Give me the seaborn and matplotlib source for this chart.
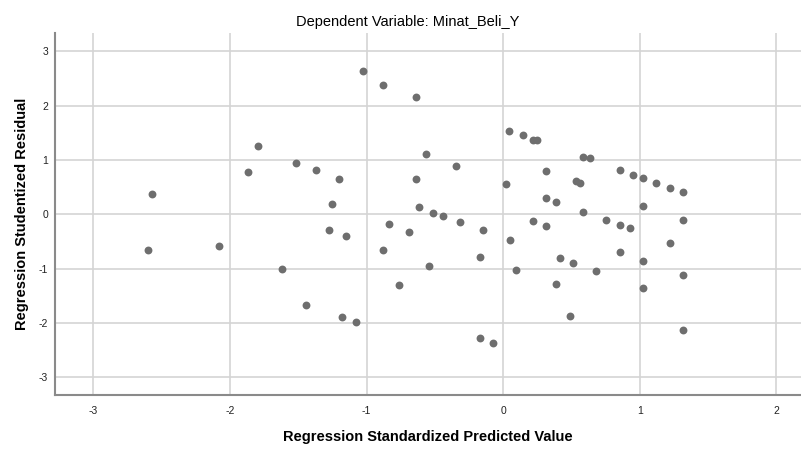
import matplotlib
matplotlib.use("Agg")
import matplotlib.pyplot as plt
import seaborn as sns
import pandas as pd

# regression standardized predicted value (x) and studentized residual (y)
pred_std = [
    -2.597, -2.572, -2.082, -1.865, -1.792, -1.617, -1.519, -1.446, -1.372, -1.275,
    -1.251, -1.202, -1.178, -1.151, -1.078, -1.026, -0.882, -0.882, -0.836, -0.761,
    -0.688, -0.641, -0.641, -0.614, -0.568, -0.544, -0.514, -0.441, -0.346, -0.319,
    -0.173, -0.173, -0.150, -0.078, 0.022, 0.045, 0.047, 0.095, 0.144, 0.215,
    0.246, 0.217, 0.317, 0.317, 0.317, 0.390, 0.390, 0.415, 0.486, 0.512,
    0.530, 0.561, 0.588, 0.632, 0.588, 0.683, 0.756, 0.854, 0.854, 0.854,
    0.927, 0.951, 1.024, 1.024, 1.024, 1.024, 1.122, 1.220, 1.220, 1.317,
    1.317, 1.317, 1.317,
]
resid_stud = [
    -0.650, 0.379, -0.588, 0.772, 1.261, -1.011, 0.949, -1.661, 0.809, -0.294,
    0.189, 0.654, -1.893, -0.404, -1.980, 2.629, 2.377, -0.650, -0.184, -1.305,
    -0.320, 2.156, 0.649, 0.129, 1.103, -0.950, 0.029, -0.026, 0.882, -0.142,
    -0.779, -2.274, -0.290, -2.366, 0.557, 1.537, -0.472, -1.018, 1.458, 1.371,
    1.371, -0.118, 0.796, 0.294, -0.210, 0.232, -1.276, -0.809, -1.864, -0.901,
    0.618, 0.581, 1.053, 1.029, 0.048, -1.042, -0.105, 0.814, -0.197, -0.693,
    -0.257, 0.722, 0.661, 0.158, -0.853, -1.355, 0.575, 0.478, -0.522, 0.404,
    -0.105, -1.116, -2.127,
]
x_ticks = [-3, -2, -1, 0, 1, 2]
y_ticks = [-3, -2, -1, 0, 1, 2, 3]

df = pd.DataFrame({"pred": pred_std, "resid": resid_stud})

sns.set_style("white")
plt.rcParams["font.family"] = ["Liberation Sans", "DejaVu Sans"]

fig = plt.figure(figsize=(8.01, 4.49), dpi=100)
ax = fig.add_axes([0.0687, 0.1196, 0.9313, 0.8076])

sns.scatterplot(data=df, x="pred", y="resid", ax=ax, color="#6e6e6e",
                s=32, linewidth=0, zorder=3)

ax.set_xlim(-3.28, 2.18)
ax.set_ylim(-3.33, 3.34)
ax.set_xticks(x_ticks)
ax.set_yticks(y_ticks)
ax.set_xticklabels([str(t) for t in x_ticks], fontsize=7.5, color="#222222")
ax.set_yticklabels([str(t) for t in y_ticks], fontsize=7.5, color="#222222")
ax.tick_params(axis="both", length=0)
ax.tick_params(axis="x", pad=8)
ax.tick_params(axis="y", pad=5)
ax.grid(True, color="#d4d4d4", linewidth=1.2, zorder=0)

for side in ["top", "right"]:
    ax.spines[side].set_visible(False)
for side in ["left", "bottom"]:
    ax.spines[side].set_color("#8a8a8a")
    ax.spines[side].set_linewidth(1.5)

ax.set_xlabel("Regression Standardized Predicted Value", fontsize=10.5,
              fontweight="bold", color="black", labelpad=10)
ax.set_ylabel("Regression Studentized Residual", fontsize=10.5,
              fontweight="bold", color="black", labelpad=7)
fig.suptitle("Dependent Variable: Minat_Beli_Y", x=0.509, y=0.967,
             fontsize=10.5, fontweight="medium", color="black")

fig.savefig("out.png", dpi=100)
